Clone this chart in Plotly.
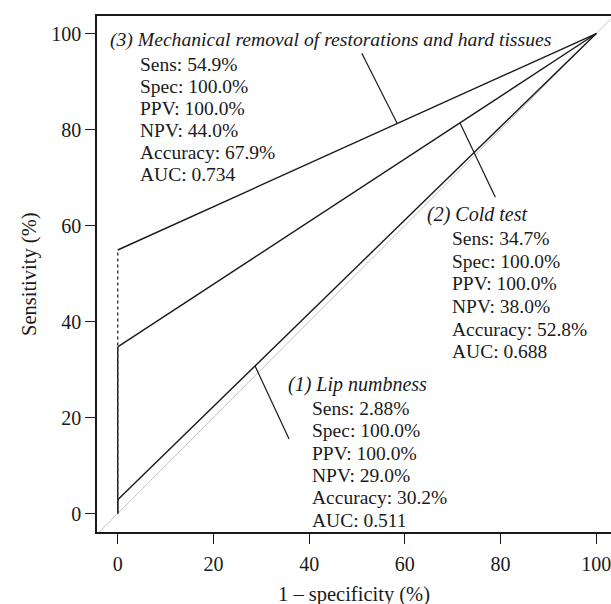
import plotly.graph_objects as go

# ---- data ----
tests = ["(1) Lip numbness", "(2) Cold test",
         "(3) Mechanical removal of restorations and hard tissues"]
sens = [2.88, 34.7, 54.9]          # sensitivity (%)
spec = [100.0, 100.0, 100.0]       # specificity (%)
ppv = [100.0, 100.0, 100.0]
npv = [29.0, 38.0, 44.0]
accuracy = [30.2, 52.8, 67.9]
auc = [0.511, 0.688, 0.734]
sens_text = ["2.88", "34.7", "54.9"]
x_ticks = [0, 20, 40, 60, 80, 100]
y_ticks = [0, 20, 40, 60, 80, 100]

# ---- label layout (data coords) ----
head_pos = [(35.2, 26.8), (64.2, 62.2), (-2.1, 98.8)]
head_size = [20, 20, 19.65]
stat_pos = [(40.2, 21.9), (69.4, 57.3), (4.24, 93.6)]
stat_step = [4.65, 4.72, 4.58]
leader_from = [(35.8, 15.5), (78.9, 65.9), (51.0, 95.9)]
leader_to_x = [28.7, 71.5, 58.4]

FONT = "Liberation Serif"
FS_TICK = 20
FS_TEXT = 19.5
FS_TITLE = 20.5
INK = "#1a1a1a"

fig = go.Figure()

# reference diagonal
fig.add_trace(go.Scatter(x=[-10, 110], y=[-10, 110], mode="lines",
                         line=dict(color="#c4c4c4", width=1), hoverinfo="skip",
                         showlegend=False))

for i in range(3):
    fpr = 100 - spec[i]
    # vertical part
    fig.add_trace(go.Scatter(x=[0, fpr], y=[0, sens[i]], mode="lines",
                             line=dict(color="#333344" if i == 2 else INK,
                                       width=1.4, dash="dot" if i == 2 else "solid"),
                             showlegend=False, hoverinfo="skip"))
    # diagonal part
    fig.add_trace(go.Scatter(x=[fpr, 100], y=[sens[i], 100], mode="lines",
                             line=dict(color=INK, width=1.4),
                             showlegend=False, hoverinfo="skip"))

annotations = []
shapes = []
for i in range(3):
    hx, hy = head_pos[i]
    annotations.append(dict(x=hx, y=hy, xref="x", yref="y", text="<i>" + tests[i] + "</i>",
                            showarrow=False, xanchor="left", yanchor="middle",
                            font=dict(family=FONT, size=head_size[i], color=INK)))
    lines = ["Sens: %s%%" % sens_text[i],
             "Spec: %.1f%%" % spec[i],
             "PPV: %.1f%%" % ppv[i],
             "NPV: %.1f%%" % npv[i],
             "Accuracy: %.1f%%" % accuracy[i],
             "AUC: %.3f" % auc[i]]
    sx, sy = stat_pos[i]
    for k, t in enumerate(lines):
        annotations.append(dict(x=sx, y=sy - k * stat_step[i], xref="x", yref="y", text=t,
                                showarrow=False, xanchor="left", yanchor="middle",
                                font=dict(family=FONT, size=FS_TEXT, color=INK)))
    lx, ly = leader_from[i]
    tx = leader_to_x[i]
    fpr = 100 - spec[i]
    ty = sens[i] + (100 - sens[i]) * (tx - fpr) / (100 - fpr)
    shapes.append(dict(type="line", xref="x", yref="y", x0=lx, y0=ly, x1=tx, y1=ty,
                       line=dict(color=INK, width=1.2)))

# axis titles
annotations.append(dict(text="Sensitivity (%)", xref="paper", yref="paper",
                        x=-0.1323, y=0.5, textangle=-90, showarrow=False,
                        xanchor="center", yanchor="middle",
                        font=dict(family=FONT, size=FS_TITLE, color=INK)))
annotations.append(dict(text="1 \u2013 specificity (%)", xref="paper", yref="paper",
                        x=0.5, y=-0.122, showarrow=False,
                        xanchor="center", yanchor="middle",
                        font=dict(family=FONT, size=FS_TITLE, color=INK)))

fig.update_layout(
    width=611, height=604,
    margin=dict(l=97, r=0, t=16, b=72),
    paper_bgcolor="white", plot_bgcolor="white",
    font=dict(family=FONT, size=FS_TICK, color=INK),
    annotations=annotations, shapes=shapes,
    showlegend=False,
)
fig.update_xaxes(range=[-4.33, 103.07], tickvals=x_ticks, ticks="outside", ticklen=10,
                 tickwidth=1.2, tickcolor=INK, showline=True, linecolor=INK, linewidth=1.5,
                 mirror=True, showgrid=False, zeroline=False, ticklabelstandoff=3,
                 ticklabeloverflow="allow",
                 tickfont=dict(family=FONT, size=FS_TICK, color=INK))
fig.update_yaxes(range=[-3.85, 103.65], tickvals=y_ticks, ticks="outside", ticklen=10,
                 tickwidth=1.2, tickcolor=INK, showline=True, linecolor=INK, linewidth=1.5,
                 mirror=False, showgrid=False, zeroline=False,
                 tickfont=dict(family=FONT, size=FS_TICK, color=INK))

fig.write_html("out.html", config={"displayModeBar": False},
               post_script="document.body.style.margin='0px';")
